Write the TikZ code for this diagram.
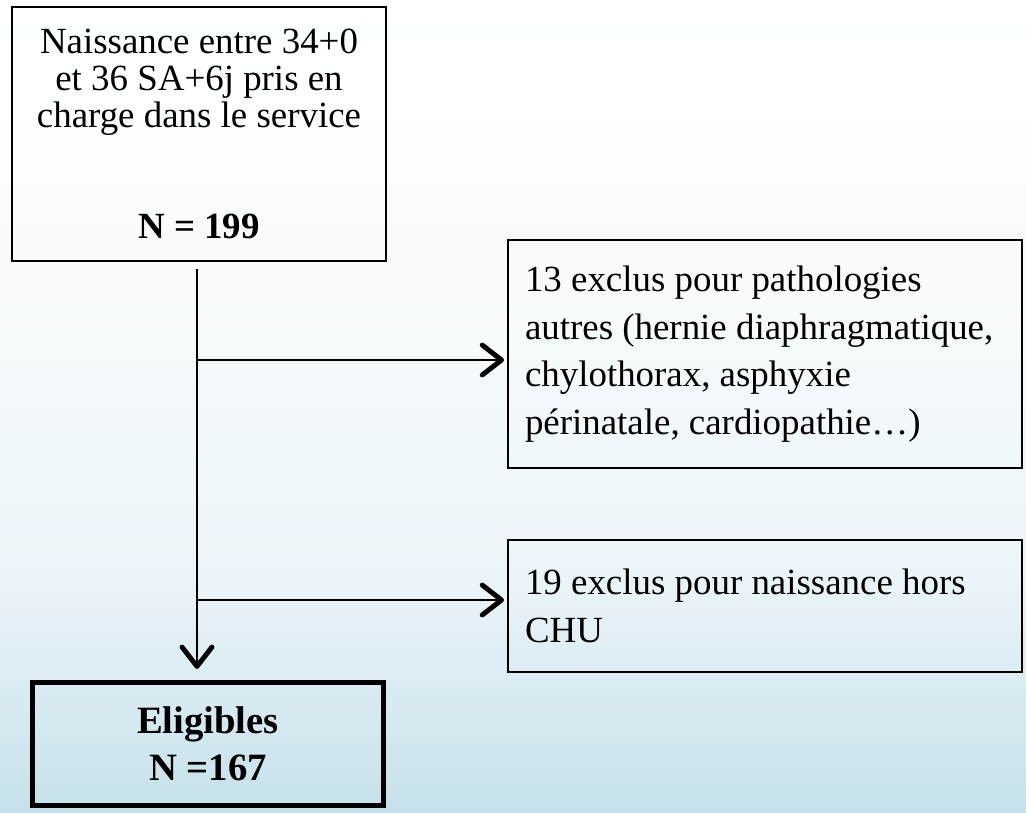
\documentclass[tikz,border=0pt]{standalone}
\usepackage{fontspec}
\setmainfont{Liberation Serif}
\usetikzlibrary{arrows.meta,positioning}
\definecolor{bgbottom}{RGB}{198,225,234}
\definecolor{bgmid}{RGB}{236,245,249}
\definecolor{bgpale}{RGB}{249,252,254}
\pgfdeclareverticalshading{backdrop}{100bp}{color(0bp)=(bgbottom); color(25bp)=(bgbottom); color(40bp)=(bgmid); color(60bp)=(bgpale); color(75bp)=(white); color(100bp)=(white)}
\tikzset
{
    startbox/.style={rectangle, draw=black, line width=1.1pt, inner sep=0pt, minimum width=7.48cm, minimum height=5.08cm, align=center, font=\fontsize{21}{21}\selectfont},
    process/.style={rectangle, draw=black, line width=1.1pt, inner sep=0pt, minimum width=10.28cm, text width=9.6cm, align=flush left, font=\fontsize{21}{27}\selectfont},
    endbox/.style={rectangle, draw=black, line width=3pt, inner sep=0pt, minimum width=7.02cm, minimum height=2.46cm, align=center, font=\bfseries\fontsize{22}{26.5}\selectfont},
    arrow/.style={line width=1.5pt, -{Straight Barb[length=11pt,width=17pt,line width=2.8pt,round]}}
}
\begin{document}
\begin{tikzpicture}
	\shade[shading=backdrop] (0,0) rectangle (20.52,-16.24);
	\useasboundingbox (0,0) rectangle (20.52,-16.24);
	\node (birth) [startbox] at (3.98,-2.68) {Naissance entre 34+0\\ et 36 SA+6j pris en\\ charge dans le service\\[42pt] \textbf{N = 199}};
	\node (excl1) [process, minimum height=4.56cm, right of=birth, xshift=10.32cm, yshift=-4.4cm] {13 exclus pour pathologies\\ autres (hernie diaphragmatique,\\ chylothorax, asphyxie\\ périnatale, cardiopathie…)};
	\node (excl2) [process, minimum height=2.64cm, below of=excl1, yshift=-4.04cm] {19 exclus pour naissance hors\\ CHU};
	\node (elig) [endbox, below of=birth, xshift=0.18cm, yshift=-11.2cm] {Eligibles\\ N =167};

	\coordinate (b1) at (3.94,-7.2);
	\coordinate (b2) at (3.94,-12.0);
	\draw [arrow, shorten <=0.14cm, shorten >=0.22cm] (birth.south -| b1) -- (elig.north -| b1);
	\draw [arrow, shorten >=0.06cm] (b1) -- (excl1.west |- b1);
	\draw [arrow, shorten >=0.06cm] (b2) -- (excl2.west |- b2);
\end{tikzpicture}
\end{document}
